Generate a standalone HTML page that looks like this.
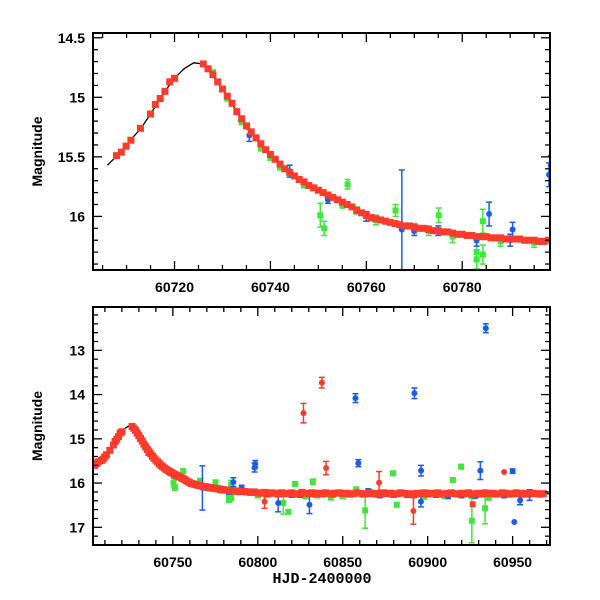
<!DOCTYPE html>
<html><head><meta charset="utf-8"><style>
html,body{margin:0;padding:0;background:#fff;}
svg{display:block;font-family:"Liberation Sans",sans-serif;}
</style></head><body>
<svg id="chart" width="600" height="600" viewBox="0 0 600 600"></svg>
<script>
// ---- data ----
const modelDays=[60703,60706,60708,60711,60713,60715,60718,60720,60722,60724,60726,60728,60731,60733,60736,60738,60741,60743,60746,60750,60753,60757,60761,60766,60772,60777,60782,60788,60793,60798,60820,60860,60972];
const modelMags=[15.62,15.57,15.49,15.35,15.26,15.14,14.95,14.84,14.76,14.71,14.72,14.82,14.99,15.12,15.29,15.40,15.52,15.60,15.69,15.78,15.84,15.93,16.01,16.06,16.10,16.13,16.16,16.18,16.19,16.20,16.23,16.24,16.24];

const redDays=[60704,60705,60706,60707.9,60708.9,60709.9,60710.9,60712.9,60715,60716,60717,60718,60719,60720,
60726,60727,60728,60729,60730,60731,60732,60733,60734,60735,60736,60737,60738,60739,60740,60741,60742,60743,60744,60745,60746,60747,60748,60749,60750,60751,60752,60753,60754,60755,60756,60757,60758,60759,60760,60761,60762,60763,60764,60765,60766,60767,60768,60769,60770,60771,60772,60773,60774,60775,60776,60777,60778,60779,60780,60781,60782,60783,60784,60785,60786,60787,60788,60789,60790,60791,60792,60793,60794,60795,60796,60797,60798,
60800,60802,60804,60806,60808,60810,60812,60814,60816,60818,60820,60822,60824,60826,60828,60830,60832,60834,60836,60838,60840,60842,60844,60846,60848,60850,60852,60854,60856,60858,60860,60862,60864,60866,60868,60870,60872,60874,60876,60878,60880,60882,60884,60886,60888,60890,60892,60894,60896,60898,60900,60902,60904,60906,60908,60910,60912,60914,60916,60918,60920,60922,60924,60926,60928,60930,60932,60934,60936,60938,60940,60942,60944,60946,60948,60950,60952,60954,60956,60958,60960,60962,60964,60966,60968];
const redMags=[15.60,15.56,15.52,15.49,15.46,15.41,15.36,15.26,15.14,15.06,15.01,14.95,14.87,14.84,
14.72,14.76,14.81,14.87,14.93,14.99,15.05,15.12,15.18,15.24,15.29,15.34,15.39,15.44,15.48,15.52,15.56,15.60,15.63,15.66,15.69,15.71,15.74,15.76,15.78,15.80,15.82,15.84,15.86,15.88,15.90,15.92,15.95,15.97,15.99,16.01,16.02,16.03,16.04,16.05,16.06,16.07,16.08,16.08,16.09,16.10,16.10,16.11,16.12,16.12,16.13,16.13,16.14,16.15,16.15,16.16,16.16,16.17,16.17,16.17,16.18,16.18,16.18,16.19,16.19,16.19,16.19,16.20,16.20,16.20,16.21,16.21,16.20,
16.22,16.23,16.21,16.24,16.22,16.23,16.25,16.22,16.24,16.23,16.22,16.25,16.24,16.21,16.23,16.24,16.22,16.25,16.23,16.24,16.22,16.24,16.25,16.23,16.22,16.24,16.23,16.25,16.24,16.22,16.23,16.25,16.24,16.22,16.24,16.23,16.25,16.22,16.24,16.23,16.25,16.24,16.22,16.23,16.25,16.24,16.26,16.23,16.24,16.22,16.25,16.23,16.24,16.22,16.25,16.24,16.23,16.22,16.24,16.25,16.23,16.24,16.22,16.26,16.24,16.23,16.25,16.22,16.24,16.23,16.25,16.24,16.22,16.23,16.25,16.24,16.22,16.24,16.23,16.25,16.24,16.23,16.24,16.25,16.24];
const redOutDays=[60826.9,60837.7,60840.2,60945,60926.5,60891.6,60871.4,60804];
const redOutMags=[14.42,13.73,15.66,15.75,16.48,16.63,15.99,16.42];
const redOutErr=[0.22,0.12,0.15,0,0.05,0.3,0.25,0.15];

const blueDays=[60735.6,60767.4,60785.6,60790.5,60798.1,60798.5,60812,60830.4,60857.5,60859.2,60892.2,60896.1,60896,60931,60934.2,60950,60951,60954.4,60744,60760,60775,60783,60820,60845,60865,60880,60905,60920,60940,60960,60752,60770,60790,60825,60838,60855,60872,60888,60912,60928,60945,60966];
const blueMags=[15.32,16.11,15.98,16.11,15.65,15.57,16.45,16.49,14.08,15.55,13.97,15.72,16.42,15.72,12.50,15.73,16.88,16.39,15.62,16.00,16.12,16.20,16.26,16.22,16.18,16.27,16.26,16.28,16.25,16.27,15.86,16.12,16.20,16.27,16.26,16.25,16.28,16.27,16.30,16.29,16.28,16.26];
const blueErr=[0.05,0.5,0.1,0.06,0.1,0.08,0.2,0.2,0.1,0.08,0.12,0.12,0.12,0.2,0.1,0.05,0,0.1,0.05,0.04,0.04,0.05,0.06,0.05,0.05,0.05,0.06,0.05,0.05,0.12,0.03,0.04,0.05,0.05,0.05,0.05,0.05,0.05,0.05,0.05,0.05,0.05];

const greenDays=[60750.4,60751.2,60756.1,60766.1,60775.1,60783,60783,60784.3,60784.3,60815,60818,60822,60832.4,60863.2,60879.5,60881.8,60914.8,60919.7,60926,60933.8,60728,60731,60734,60738,60742,60747,60755,60762,60770,60778,60788,60795,60805,60835,60850,60870,60890,60910,60945,60965,60740,60758,60773,60800,60828,60843,60858,60898,60936,60955];
const greenMags=[15.99,16.10,15.73,15.95,15.99,16.30,16.36,16.32,16.04,16.45,16.65,16.02,15.97,16.62,15.78,16.49,15.93,15.63,16.85,16.57,14.80,15.00,15.20,15.42,15.58,15.73,15.90,16.03,16.10,16.17,16.21,16.22,16.26,16.28,16.30,16.27,16.26,16.29,16.27,16.25,15.50,15.95,16.12,16.28,16.30,16.32,16.15,16.31,16.33,16.27];
const greenErr=[0.1,0.06,0.04,0.05,0.06,0.08,0.08,0.08,0.1,0.25,0.04,0.05,0.06,0.4,0.05,0.04,0.04,0.05,0.5,0.35,0.03,0.03,0.03,0.03,0.03,0.03,0.03,0.04,0.04,0.05,0.04,0.04,0.06,0.05,0.05,0.05,0.06,0.05,0.05,0.05,0.03,0.03,0.04,0.05,0.05,0.06,0.06,0.05,0.05,0.05];

const topXTicks=["60720","60740","60760","60780"];
const topYTicks=["14.5","15","15.5","16"];
const botXTicks=["60750","60800","60850","60900","60950"];
const botYTicks=["13","14","15","16","17"];

// ---- drawing ----
const NS="http://www.w3.org/2000/svg";
const svg=document.getElementById('chart');
function mk(tag,attrs,parent){const e=document.createElementNS(NS,tag);for(const k in attrs)e.setAttribute(k,attrs[k]);(parent||svg).appendChild(e);return e;}
const RED="#ff3b2b",BLUE="#1a5cf0",GREEN="#3ee83a";

const panels=[
 {name:'top',x0:93,x1:550,y0:33,y1:270,d0:60703,d1:60798.3,m0:14.46,m1:16.45,xt:topXTicks,yt:topYTicks,xminor:5,yminor:0.1,rs:7,gs:6,br:3,modelStart:60706},
 {name:'bottom',x0:93,x1:550,y0:307,y1:545,d0:60703,d1:60972,m0:12.02,m1:17.4,xt:botXTicks,yt:botYTicks,xminor:10,yminor:0.2,rs:7,gs:6,br:3,modelStart:60700}
];

panels.forEach(p=>{
 const g=mk('g',{});
 
 
 const X=d=>p.x0+(d-p.d0)/(p.d1-p.d0)*(p.x1-p.x0);
 const Y=m=>p.y0+(m-p.m0)/(p.m1-p.m0)*(p.y1-p.y0);
 const cp='clip-'+p.name;
 const defs=mk('defs',{},g);
 const c=mk('clipPath',{id:cp},defs);
 mk('rect',{x:p.x0,y:p.y0,width:p.x1-p.x0,height:p.y1-p.y0},c);
 const plot=mk('g',{'clip-path':'url(#'+cp+')'},g);
 
 
 function errbar(d,m,e,col,grp){
  if(e<=0)return;
  const x=X(d),ya=Y(m-e),yb=Y(m+e);
  mk('line',{x1:x,x2:x,y1:ya,y2:yb,stroke:col,'stroke-width':1.5},grp);
  mk('line',{x1:x-3,x2:x+3,y1:ya,y2:ya,stroke:col,'stroke-width':1.5},grp);
  mk('line',{x1:x-3,x2:x+3,y1:yb,y2:yb,stroke:col,'stroke-width':1.5},grp);
 }
 const gg=mk('g',{},plot);
 
 
 greenDays.forEach((d,i)=>{errbar(d,greenMags[i],greenErr[i],GREEN,gg);
  const r=mk('rect',{x:X(d)-p.gs/2,y:Y(greenMags[i])-p.gs/2,width:p.gs,height:p.gs,fill:GREEN},gg);
  
  });
 const bg=mk('g',{},plot);
 
 
 blueDays.forEach((d,i)=>{errbar(d,blueMags[i],blueErr[i],BLUE,bg);
  const r=mk('circle',{cx:X(d),cy:Y(blueMags[i]),r:p.br,fill:BLUE},bg);
  
  });
 const pts=[];
 modelDays.forEach((d,i)=>{if(d>=p.modelStart)pts.push(X(d).toFixed(1)+','+Y(modelMags[i]).toFixed(1));});
 const ml=mk('polyline',{points:pts.join(' '),fill:'none',stroke:'#000','stroke-width':1.3,'stroke-linejoin':'round'},plot);
 
 
 const rg=mk('g',{},plot);
 
 
 redDays.forEach((d,i)=>{
  if(p.name==='top'&&d<60707.5)return;
  const r=mk('rect',{x:X(d)-p.rs/2,y:Y(redMags[i])-p.rs/2,width:p.rs,height:p.rs,fill:RED},rg);
  
  });
 redOutDays.forEach((d,i)=>{errbar(d,redOutMags[i],redOutErr[i],RED,rg);
  const r=mk('circle',{cx:X(d),cy:Y(redOutMags[i]),r:3,fill:RED},rg);
  
  });
 const fr=mk('rect',{x:p.x0,y:p.y0,width:p.x1-p.x0,height:p.y1-p.y0,fill:'none',stroke:'#000','stroke-width':2},g);
 
 
 const ax=mk('g',{},g);
 
 
 const majX=p.xt.map(Number);
 for(let d=Math.ceil(p.d0/p.xminor)*p.xminor;d<=p.d1;d+=p.xminor){
  const maj=majX.some(v=>Math.abs(v-d)<1e-6)||(d%(p.xminor*(p.name==='top'?4:5))===0);
  const L=maj?9:5,x=X(d);
  mk('line',{x1:x,x2:x,y1:p.y1,y2:p.y1-L,stroke:'#000','stroke-width':1.3},ax);
  mk('line',{x1:x,x2:x,y1:p.y0,y2:p.y0+L,stroke:'#000','stroke-width':1.3},ax);
 }
 p.xt.forEach(t=>{const tx=mk('text',{x:X(+t),y:p.y1+22,'text-anchor':'middle','font-size':14,'font-weight':'bold'},ax);tx.textContent=t;
  
  });
 const ay=mk('g',{},g);
 
 
 const majStep=p.name==='top'?0.5:1;
 const n0=Math.ceil(p.m0/p.yminor-1e-6),n1=Math.floor(p.m1/p.yminor+1e-6);
 for(let n=n0;n<=n1;n++){
  const m=n*p.yminor;const maj=Math.abs(m/majStep-Math.round(m/majStep))<1e-6;
  const L=maj?9:5,y=Y(m);
  mk('line',{x1:p.x0,x2:p.x0+L,y1:y,y2:y,stroke:'#000','stroke-width':1.3},ay);
  mk('line',{x1:p.x1,x2:p.x1-L,y1:y,y2:y,stroke:'#000','stroke-width':1.3},ay);
 }
 p.yt.forEach(t=>{const ty=mk('text',{x:p.x0-8,y:Y(+t)+5,'text-anchor':'end','font-size':14,'font-weight':'bold'},ay);ty.textContent=t;
  
  });
 const yl=mk('text',{x:0,y:0,'text-anchor':'middle','font-size':14,'font-weight':'bold',transform:'translate(42,'+((p.y0+p.y1)/2)+') rotate(-90)'},g);
 yl.textContent='Magnitude';
 
 
});
const xl=mk('text',{x:322,y:583,'text-anchor':'middle','font-size':15,'font-weight':'bold','font-family':'"Liberation Mono",monospace'});
xl.textContent='HJD-2400000';


</script>
</body></html>
